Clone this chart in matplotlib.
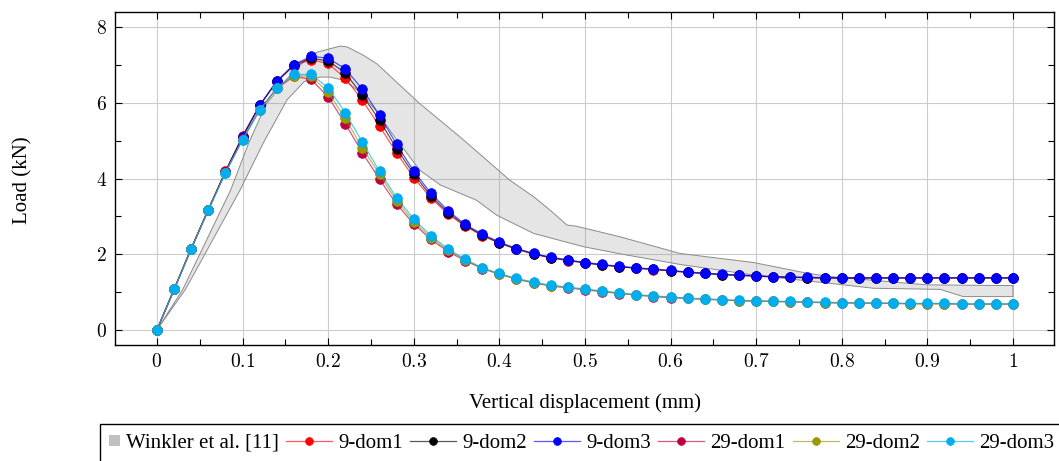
import numpy as np
import matplotlib
matplotlib.use('Agg')
from matplotlib import pyplot as plt
from matplotlib.patches import Rectangle, Patch
from matplotlib.legend_handler import HandlerBase
from matplotlib.colors import to_rgba

# vertical displacement (mm), sampled every 0.02
disp = [0.00, 0.02, 0.04, 0.06, 0.08, 0.10, 0.12, 0.14, 0.16, 0.18,
        0.20, 0.22, 0.24, 0.26, 0.28, 0.30, 0.32, 0.34, 0.36, 0.38,
        0.40, 0.42, 0.44, 0.46, 0.48, 0.50, 0.52, 0.54, 0.56, 0.58,
        0.60, 0.62, 0.64, 0.66, 0.68, 0.70, 0.72, 0.74, 0.76, 0.78,
        0.80, 0.82, 0.84, 0.86, 0.88, 0.90, 0.92, 0.94, 0.96, 0.98, 1.00]

# load (kN)
dom9_1 = [0, 1.07, 2.15, 3.18, 4.19, 5.12, 5.94, 6.55, 6.98, 7.14,
          7.04, 6.65, 6.07, 5.38, 4.68, 4.02, 3.49, 3.06, 2.74, 2.49,
          2.29, 2.13, 2.00, 1.90, 1.83, 1.77, 1.71, 1.67, 1.63, 1.59,
          1.56, 1.52, 1.49, 1.46, 1.44, 1.42, 1.40, 1.39, 1.38, 1.37,
          1.37, 1.37, 1.37, 1.37, 1.37, 1.37, 1.37, 1.37, 1.37, 1.37, 1.37]
dom9_2 = [0, 1.07, 2.15, 3.18, 4.18, 5.11, 5.93, 6.57, 7.00, 7.18,
          7.11, 6.79, 6.20, 5.54, 4.79, 4.12, 3.54, 3.10, 2.76, 2.51,
          2.30, 2.14, 2.01, 1.91, 1.84, 1.77, 1.72, 1.67, 1.63, 1.60,
          1.56, 1.52, 1.49, 1.46, 1.44, 1.42, 1.40, 1.39, 1.38, 1.37,
          1.37, 1.37, 1.37, 1.37, 1.37, 1.37, 1.37, 1.37, 1.37, 1.37, 1.37]
dom9_3 = [0, 1.07, 2.15, 3.18, 4.18, 5.10, 5.93, 6.58, 7.01, 7.23,
          7.18, 6.90, 6.36, 5.67, 4.90, 4.20, 3.61, 3.15, 2.79, 2.53,
          2.32, 2.15, 2.02, 1.92, 1.85, 1.78, 1.73, 1.68, 1.64, 1.61,
          1.57, 1.53, 1.50, 1.47, 1.45, 1.43, 1.41, 1.40, 1.39, 1.38,
          1.38, 1.38, 1.38, 1.38, 1.38, 1.38, 1.38, 1.38, 1.38, 1.38, 1.38]
dom29_1 = [0, 1.07, 2.14, 3.17, 4.16, 5.04, 5.82, 6.38, 6.70, 6.62,
           6.16, 5.45, 4.68, 3.98, 3.32, 2.80, 2.39, 2.07, 1.83, 1.62,
           1.47, 1.34, 1.24, 1.16, 1.11, 1.06, 1.01, 0.96, 0.92, 0.88,
           0.85, 0.83, 0.81, 0.79, 0.77, 0.76, 0.75, 0.74, 0.73, 0.72,
           0.71, 0.71, 0.70, 0.70, 0.69, 0.69, 0.69, 0.68, 0.68, 0.68, 0.68]
dom29_2 = [0, 1.07, 2.14, 3.17, 4.15, 5.03, 5.81, 6.40, 6.72, 6.70,
           6.28, 5.59, 4.81, 4.11, 3.41, 2.86, 2.44, 2.10, 1.85, 1.63,
           1.48, 1.35, 1.25, 1.17, 1.12, 1.07, 1.02, 0.97, 0.92, 0.89,
           0.86, 0.83, 0.81, 0.79, 0.77, 0.76, 0.75, 0.74, 0.73, 0.72,
           0.71, 0.71, 0.70, 0.70, 0.69, 0.69, 0.69, 0.68, 0.68, 0.68, 0.68]
dom29_3 = [0, 1.07, 2.14, 3.17, 4.15, 5.02, 5.80, 6.40, 6.75, 6.75,
           6.40, 5.74, 4.96, 4.19, 3.49, 2.93, 2.49, 2.14, 1.87, 1.64,
           1.49, 1.36, 1.26, 1.18, 1.13, 1.08, 1.03, 0.98, 0.93, 0.90,
           0.87, 0.84, 0.82, 0.80, 0.78, 0.77, 0.76, 0.75, 0.74, 0.73,
           0.72, 0.72, 0.71, 0.71, 0.70, 0.70, 0.70, 0.69, 0.69, 0.69, 0.69]

# Winkler et al. experimental envelope
winkler_up_x = [0, 0.030, 0.050, 0.086, 0.107, 0.128, 0.152, 0.171, 0.187, 0.214,
                0.222, 0.241, 0.257, 0.307, 0.354, 0.381, 0.412, 0.440, 0.459,
                0.479, 0.490, 0.541, 0.611, 0.697, 0.759, 0.786, 0.899, 1.0]
winkler_up_y = [0, 1.06, 2.0, 3.69, 4.93, 5.98, 6.64, 7.08, 7.34, 7.50,
                7.48, 7.26, 7.03, 5.98, 5.10, 4.57, 3.96, 3.52, 3.17,
                2.77, 2.74, 2.46, 2.02, 1.78, 1.50, 1.41, 1.19, 1.17]
winkler_low_x = [0, 0.033, 0.056, 0.097, 0.124, 0.152, 0.172, 0.190, 0.202, 0.218,
                 0.237, 0.257, 0.276, 0.307, 0.331, 0.373, 0.397, 0.440, 0.498,
                 0.541, 0.611, 0.697, 0.786, 0.837, 0.915, 0.942, 1.0]
winkler_low_y = [0, 1.06, 2.0, 3.69, 4.93, 6.08, 6.56, 6.68, 6.68, 6.60,
                 6.29, 5.76, 5.15, 4.22, 3.83, 3.43, 3.03, 2.55, 2.20,
                 2.01, 1.73, 1.45, 1.23, 1.10, 1.07, 0.88, 0.88]

names = ['9-dom1', '9-dom2', '9-dom3', '29-dom1', '29-dom2', '29-dom3']
colors = ['#ff0000', '#000000', '#0000ff', '#bf0040', '#999900', '#00aeef']
series = [dom9_1, dom9_2, dom9_3, dom29_1, dom29_2, dom29_3]

xticks = [0, 0.1, 0.2, 0.3, 0.4, 0.5, 0.6, 0.7, 0.8, 0.9, 1]
xminor = [0.05, 0.15, 0.25, 0.35, 0.45, 0.55, 0.65, 0.75, 0.85, 0.95]
yticks = [0, 2, 4, 6, 8]
yminor = [1, 3, 5, 7]


class SmallSquare(HandlerBase):
    # pgfplots style small area marker in legend
    def legend_artist(self, legend, orig_handle, fontsize, handlebox):
        size = 0.5 * fontsize
        handlebox.width = size
        y0 = (handlebox.height - size) / 2 - handlebox.ydescent
        sq = Rectangle((-handlebox.xdescent, y0), size, size,
                       facecolor=orig_handle.get_facecolor(), edgecolor='none',
                       transform=handlebox.get_transform())
        handlebox.add_artist(sq)
        return sq


plt.rcParams['font.family'] = ['Liberation Serif', 'DejaVu Serif']
plt.rcParams['mathtext.fontset'] = 'cm'

fig = plt.figure(figsize=(10.59, 4.61), dpi=100)
ax = fig.add_axes([0.1086, 0.2516, 0.8867, 0.7223])

bx = np.concatenate([winkler_up_x, winkler_low_x[::-1]])
by = np.concatenate([winkler_up_y, winkler_low_y[::-1]])
ax.fill(bx, by, facecolor=(0.5, 0.5, 0.5, 0.2), edgecolor='#8a8a8a',
        linewidth=0.7, zorder=2)

lines = []
for name, col, vals in zip(names, colors, series):
    l, = ax.plot(disp, vals, color=to_rgba(col, 0.65), linewidth=0.9,
                 marker='o', markersize=7, markerfacecolor=col,
                 markeredgecolor=col, markeredgewidth=0.5, label=name, zorder=3)
    lines.append(l)

# plot aesthetics
ax.set_xlim(-0.049, 1.048)
ax.set_ylim(-0.4, 8.4)
ax.set_xticks(xticks)
ax.set_xticklabels(['$%g$' % t for t in xticks])
ax.set_xticks(xminor, minor=True)
ax.set_yticks(yticks)
ax.set_yticklabels(['$%g$' % t for t in yticks])
ax.set_yticks(yminor, minor=True)
ax.grid(True, which='major', color='#cccccc', linewidth=0.8, zorder=0)
ax.set_axisbelow(True)
ax.tick_params(axis='both', which='major', direction='in', length=5, width=0.8,
               top=True, right=True, labelsize=14, pad=6)
ax.tick_params(axis='both', which='minor', direction='in', length=4, width=0.8,
               top=True, right=True)
for s in ax.spines.values():
    s.set_linewidth(1.0)
    s.set_color('black')

ax.set_xlabel('Vertical displacement (mm)', fontsize=15)
ax.set_ylabel('Load (kN)', fontsize=15)
ax.xaxis.set_label_coords(0.5005, -0.144)
ax.yaxis.set_label_coords(-0.088, 0.495)

handles = [Patch(facecolor='#c0c0c0')] + lines
labels = ['Winkler et al. [11]'] + names
leg = fig.legend(handles, labels, loc='upper left',
                 bbox_to_anchor=(100 / 1059, 1 - 424 / 461), ncol=7,
                 frameon=True, fancybox=False, edgecolor='black', framealpha=1,
                 fontsize=15, handlelength=2.2, handletextpad=0.3,
                 columnspacing=0.35, borderpad=0.45, borderaxespad=0,
                 markerscale=0.8, handler_map={Patch: SmallSquare()})
leg.get_frame().set_linewidth(1.0)

fig.savefig('out.png', dpi=100)
plt.close()
